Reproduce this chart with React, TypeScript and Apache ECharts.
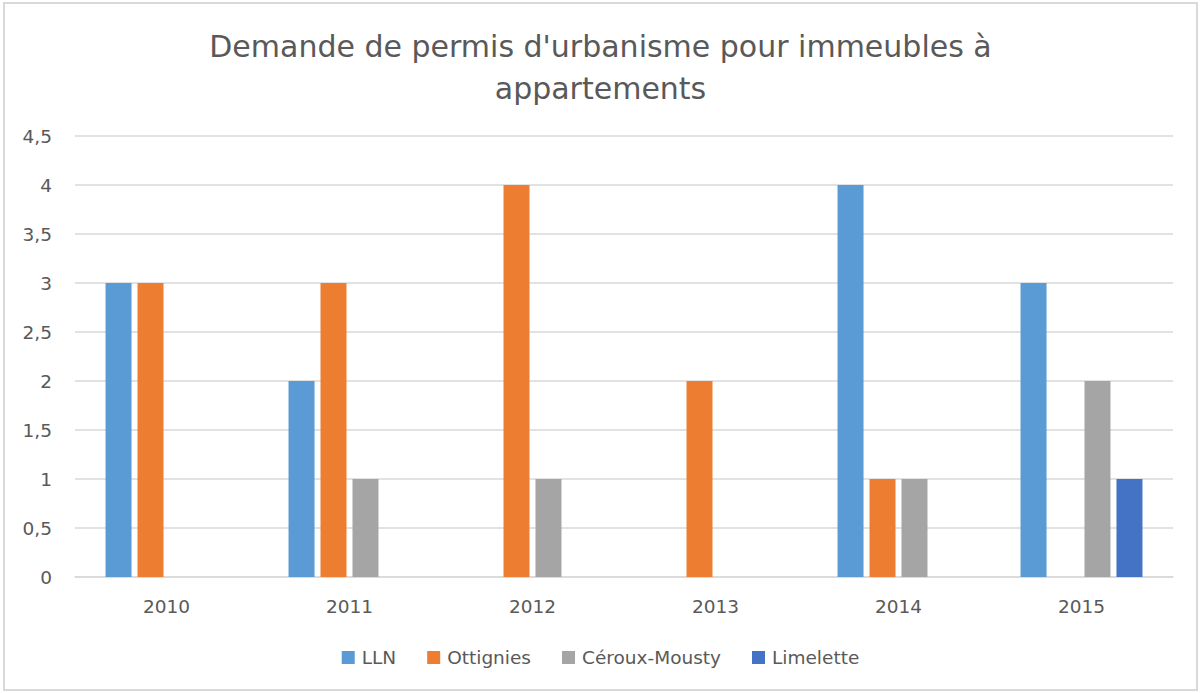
import React, { useEffect, useRef } from "react";
import * as echarts from "echarts";

const categories = ["2010", "2011", "2012", "2013", "2014", "2015"];
const seriesNames = ["LLN", "Ottignies", "Céroux-Mousty", "Limelette"];
const lln = [3, 2, 0, 0, 4, 3];
const ottignies = [3, 3, 4, 2, 1, 0];
const ceroux = [0, 1, 1, 0, 1, 2];
const limelette = [0, 0, 0, 0, 0, 1];
const colors = ["#5B9BD5", "#ED7D31", "#A5A5A5", "#4472C4"];
const titleText = "Demande de permis d'urbanisme pour immeubles à\nappartements";

export default function App() {
  const ref = useRef<HTMLDivElement>(null);
  useEffect(() => {
    document.body.style.margin = "0";
    const chart = echarts.init(ref.current!, undefined, { renderer: "svg" });
    const values = [lln, ottignies, ceroux, limelette];
    const font = "'DejaVu Sans', sans-serif";
    chart.setOption({
      animation: false,
      backgroundColor: "#ffffff",
      color: colors,
      title: {
        text: titleText,
        left: "center",
        top: 20,
        textStyle: { fontFamily: font, fontSize: 30, fontWeight: "normal", color: "#595959", lineHeight: 42 },
      },
      legend: {
        top: 643,
        left: "center",
        itemWidth: 13,
        itemHeight: 13,
        itemGap: 31,
        icon: "rect",
        textStyle: { fontFamily: font, fontSize: 18.5, color: "#595959", padding: [0, 0, 0, 2] },
        data: seriesNames,
      },
      grid: { left: 75, right: 28, top: 136, bottom: 116, containLabel: false },
      xAxis: {
        type: "category",
        data: categories,
        axisTick: { show: false },
        axisLine: { lineStyle: { color: "#d9d9d9", width: 1.5 } },
        axisLabel: { fontFamily: font, fontSize: 18.5, color: "#595959", margin: 20 },
      },
      yAxis: {
        type: "value",
        min: 0,
        max: 4.5,
        interval: 0.5,
        axisLine: { show: false },
        axisTick: { show: false },
        splitLine: { lineStyle: { color: "#d9d9d9", width: 1.5 } },
        axisLabel: {
          fontFamily: font,
          fontSize: 18.5,
          color: "#595959",
          margin: 23,
          formatter: (v: number) => String(v).replace(".", ","),
        },
      },
      graphic: [
        {
          type: "rect",
          shape: { x: 4, y: 3, width: 1193, height: 687 },
          style: { fill: "none", stroke: "#d9d9d9", lineWidth: 2 },
          silent: true,
        },
      ],
      series: seriesNames.map((name, i) => ({
        name,
        type: "bar",
        data: values[i],
        barWidth: 26,
        barGap: "23%",
        itemStyle: { color: colors[i] },
      })),
    });
    return () => chart.dispose();
  }, []);
  return <div ref={ref} style={{ width: 1201, height: 693 }} />;
}
